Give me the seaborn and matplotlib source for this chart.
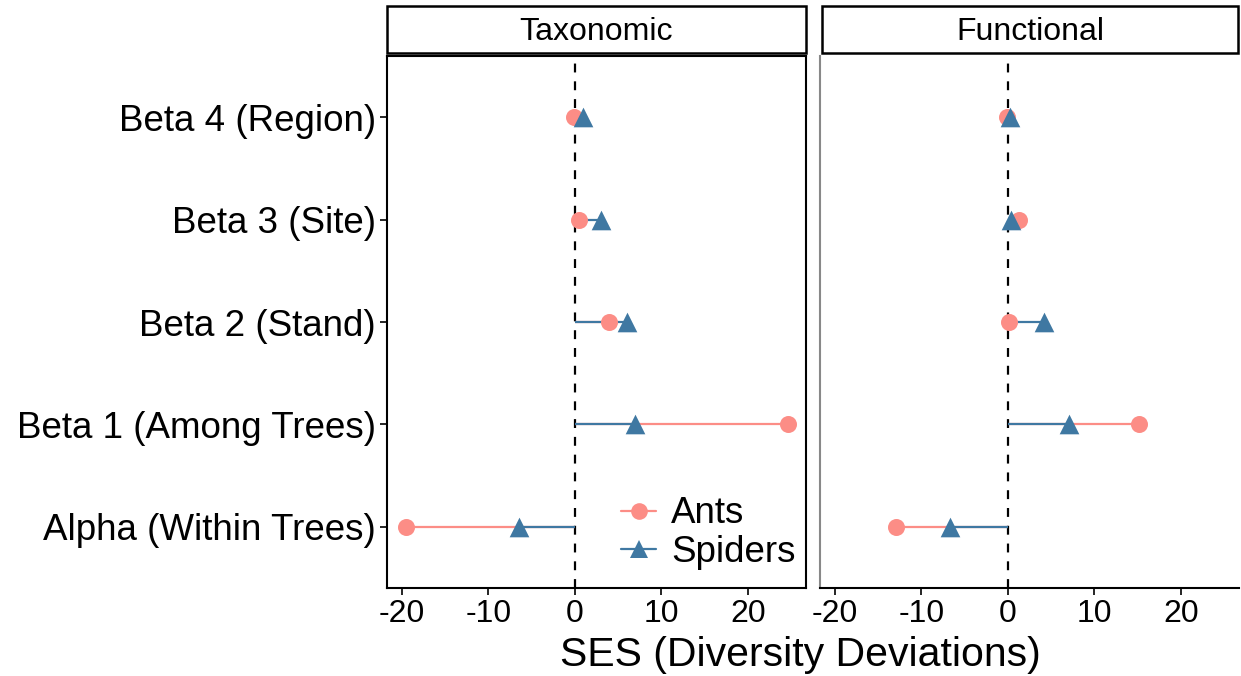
import matplotlib
matplotlib.use("Agg")
import matplotlib.pyplot as plt
from matplotlib.lines import Line2D
from matplotlib.patches import Rectangle
import seaborn as sns
import pandas as pd

sns.set_theme(style="white")
plt.rcParams['font.family'] = ['Liberation Sans', 'DejaVu Sans']

categories = ["Beta 4 (Region)", "Beta 3 (Site)", "Beta 2 (Stand)",
              "Beta 1 (Among Trees)", "Alpha (Within Trees)"]
panels = ["Taxonomic", "Functional"]
ants_tax = [-0.1, 0.5, 4.0, 24.6, -19.5]
spiders_tax = [0.9, 3.0, 6.0, 7.0, -6.5]
ants_fun = [-0.1, 1.3, 0.1, 15.1, -12.9]
spiders_fun = [0.2, 0.4, 4.2, 7.1, -6.7]
xticks = [-20, -10, 0, 10, 20]

ant_col = "#FC8D86"
spi_col = "#3F78A2"

rows = []
for panel, a, s in [("Taxonomic", ants_tax, spiders_tax), ("Functional", ants_fun, spiders_fun)]:
    for c, va, vs in zip(categories, a, s):
        rows.append(dict(panel=panel, cat=c, taxon="Ants", ses=va))
        rows.append(dict(panel=panel, cat=c, taxon="Spiders", ses=vs))
df = pd.DataFrame(rows)
df["y"] = df["cat"].map({c: i for i, c in enumerate(categories)})

W, H = 1241, 676
fig = plt.figure(figsize=(W / 100, H / 100), dpi=100)

def fx(px):
    return px / W

def fy(py):
    return 1 - py / H

ax_l = fig.add_axes([fx(387), fy(588), fx(806 - 387), fy(56) - fy(588)])
ax_r = fig.add_axes([fx(820), fy(588), fx(806 - 387), fy(56) - fy(588)])

for ax, panel in [(ax_l, "Taxonomic"), (ax_r, "Functional")]:
    d = df[df.panel == panel]
    da = d[d.taxon == "Ants"]
    ds = d[d.taxon == "Spiders"]
    ax.hlines(da["y"], 0, da["ses"], color=ant_col, lw=1.6, zorder=2)
    ax.hlines(ds["y"], 0, ds["ses"], color=spi_col, lw=1.6, zorder=3)
    ax.axvline(0, color="black", lw=1.6, ls=(0, (4, 4)), zorder=1)
    sns.scatterplot(data=da, x="ses", y="y", color=ant_col, marker="o",
                    s=150, linewidth=0, ax=ax, zorder=4, legend=False)
    sns.scatterplot(data=ds, x="ses", y="y", color=spi_col, marker="^",
                    s=200, linewidth=0, ax=ax, zorder=5, legend=False)
    ax.set_xlim(-21.7, 26.7)
    ax.set_ylim(4.6, -0.6)
    ax.set_xticks(xticks)
    ax.set_xticklabels([str(t) for t in xticks], fontsize=23, color="black")
    ax.set_xlabel("")
    ax.set_ylabel("")
    ax.tick_params(axis="both", which="both", length=5, width=1.2, color="black",
                   direction="out", bottom=True, left=True, pad=3)
    ax.set_facecolor("white")

ax_l.set_yticks(range(len(categories)))
ax_l.set_yticklabels(categories, fontsize=26.5, color="black")
for sp in ax_l.spines.values():
    sp.set_color("black")
    sp.set_linewidth(1.5)

ax_r.set_yticks(range(len(categories)))
ax_r.set_yticklabels([])
ax_r.spines["top"].set_visible(False)
ax_r.spines["right"].set_visible(False)
ax_r.spines["left"].set_color("#888888")
ax_r.spines["left"].set_linewidth(1.5)
ax_r.spines["bottom"].set_color("black")
ax_r.spines["bottom"].set_linewidth(1.5)
ax_r.tick_params(axis="y", length=0)

# facet strips
for x0, x1, label in [(387, 806, "Taxonomic"), (822, 1238, "Functional")]:
    rect = Rectangle((fx(x0), fy(53)), fx(x1 - x0), fy(6) - fy(53),
                     transform=fig.transFigure, facecolor="white",
                     edgecolor="black", lw=1.8)
    fig.add_artist(rect)
    fig.text(fx((x0 + x1) / 2), fy(32), label, ha="center", va="center",
             fontsize=23, color="black")

fig.text(fx(800), fy(655), "SES (Diversity Deviations)", ha="center",
         va="center", fontsize=29.5, color="black")

handles = [
    Line2D([], [], color=ant_col, lw=1.6, marker="o", markersize=12, markeredgewidth=0),
    Line2D([], [], color=spi_col, lw=1.6, marker="^", markersize=13, markeredgewidth=0),
]
ax_l.legend(handles, ["Ants", "Spiders"], loc="lower right", frameon=False,
            fontsize=26.5, handlelength=0.95, handletextpad=0.4, labelspacing=0.1,
            bbox_to_anchor=(1.028, -0.008), borderaxespad=0.2, labelcolor="black")

fig.savefig("out.png", dpi=100, facecolor="white")
